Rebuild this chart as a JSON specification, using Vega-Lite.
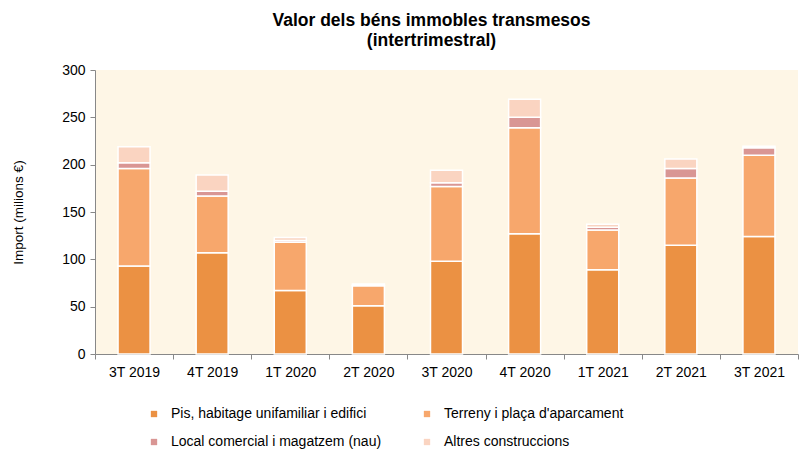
{
  "$schema": "https://vega.github.io/schema/vega-lite/v6.json",
  "width": 703,
  "height": 284,
  "autosize": {"type": "none"},
  "padding": {"left": 95, "top": 70, "right": 1, "bottom": 96},
  "background": "white",
  "config": {
    "font": "Liberation Sans",
    "view": {"fill": "#FEF6E6", "stroke": null}
  },
  "title": {
    "text": ["Valor dels béns immobles transmesos", "(intertrimestral)"],
    "font": "Liberation Sans",
    "fontSize": 17.5,
    "fontWeight": "bold",
    "color": "#000000",
    "anchor": "middle",
    "dx": -15,
    "offset": 14,
    "lineHeight": 20
  },
  "data": {
    "values": [
      {"q": "3T 2019", "cat": "Pis, habitage unifamiliar i edifici", "k": 1, "v": 93},
      {"q": "3T 2019", "cat": "Terreny i plaça d'aparcament", "k": 2, "v": 103},
      {"q": "3T 2019", "cat": "Local comercial i magatzem (nau)", "k": 3, "v": 6},
      {"q": "3T 2019", "cat": "Altres construccions", "k": 4, "v": 17},
      {"q": "4T 2019", "cat": "Pis, habitage unifamiliar i edifici", "k": 1, "v": 107},
      {"q": "4T 2019", "cat": "Terreny i plaça d'aparcament", "k": 2, "v": 60},
      {"q": "4T 2019", "cat": "Local comercial i magatzem (nau)", "k": 3, "v": 5},
      {"q": "4T 2019", "cat": "Altres construccions", "k": 4, "v": 17},
      {"q": "1T 2020", "cat": "Pis, habitage unifamiliar i edifici", "k": 1, "v": 67},
      {"q": "1T 2020", "cat": "Terreny i plaça d'aparcament", "k": 2, "v": 51},
      {"q": "1T 2020", "cat": "Local comercial i magatzem (nau)", "k": 3, "v": 2},
      {"q": "1T 2020", "cat": "Altres construccions", "k": 4, "v": 3},
      {"q": "2T 2020", "cat": "Pis, habitage unifamiliar i edifici", "k": 1, "v": 51},
      {"q": "2T 2020", "cat": "Terreny i plaça d'aparcament", "k": 2, "v": 21},
      {"q": "2T 2020", "cat": "Local comercial i magatzem (nau)", "k": 3, "v": 0.5},
      {"q": "2T 2020", "cat": "Altres construccions", "k": 4, "v": 1.5},
      {"q": "3T 2020", "cat": "Pis, habitage unifamiliar i edifici", "k": 1, "v": 98},
      {"q": "3T 2020", "cat": "Terreny i plaça d'aparcament", "k": 2, "v": 79},
      {"q": "3T 2020", "cat": "Local comercial i magatzem (nau)", "k": 3, "v": 4},
      {"q": "3T 2020", "cat": "Altres construccions", "k": 4, "v": 13},
      {"q": "4T 2020", "cat": "Pis, habitage unifamiliar i edifici", "k": 1, "v": 127},
      {"q": "4T 2020", "cat": "Terreny i plaça d'aparcament", "k": 2, "v": 112},
      {"q": "4T 2020", "cat": "Local comercial i magatzem (nau)", "k": 3, "v": 11},
      {"q": "4T 2020", "cat": "Altres construccions", "k": 4, "v": 19},
      {"q": "1T 2021", "cat": "Pis, habitage unifamiliar i edifici", "k": 1, "v": 89},
      {"q": "1T 2021", "cat": "Terreny i plaça d'aparcament", "k": 2, "v": 42},
      {"q": "1T 2021", "cat": "Local comercial i magatzem (nau)", "k": 3, "v": 3},
      {"q": "1T 2021", "cat": "Altres construccions", "k": 4, "v": 3},
      {"q": "2T 2021", "cat": "Pis, habitage unifamiliar i edifici", "k": 1, "v": 115},
      {"q": "2T 2021", "cat": "Terreny i plaça d'aparcament", "k": 2, "v": 71},
      {"q": "2T 2021", "cat": "Local comercial i magatzem (nau)", "k": 3, "v": 10},
      {"q": "2T 2021", "cat": "Altres construccions", "k": 4, "v": 10},
      {"q": "3T 2021", "cat": "Pis, habitage unifamiliar i edifici", "k": 1, "v": 124},
      {"q": "3T 2021", "cat": "Terreny i plaça d'aparcament", "k": 2, "v": 86},
      {"q": "3T 2021", "cat": "Local comercial i magatzem (nau)", "k": 3, "v": 8},
      {"q": "3T 2021", "cat": "Altres construccions", "k": 4, "v": 1.5}
    ]
  },
  "mark": {"type": "bar", "width": {"band": 0.41}, "stroke": "white", "strokeWidth": 1.5},
  "encoding": {
    "x": {
      "field": "q",
      "type": "nominal",
      "sort": null,
      "scale": {"paddingInner": 0, "paddingOuter": 0},
      "axis": {
        "title": null,
        "labelAngle": 0,
        "labelFontSize": 14,
        "labelColor": "#000000",
        "labelPadding": 6,
        "tickBand": "extent",
        "domainColor": "#888888",
        "tickColor": "#888888",
        "tickSize": 5,
        "grid": false
      }
    },
    "y": {
      "field": "v",
      "type": "quantitative",
      "stack": "zero",
      "scale": {"domain": [0, 300], "nice": false},
      "axis": {
        "title": "Import (milions €)",
        "titleFontSize": 13.5,
        "titleFontWeight": "normal",
        "titleColor": "#000000",
        "titlePadding": 36,
        "values": [0, 50, 100, 150, 200, 250, 300],
        "labelFontSize": 14,
        "labelColor": "#000000",
        "labelPadding": 5,
        "domainColor": "#888888",
        "tickColor": "#888888",
        "tickSize": 5,
        "grid": false
      }
    },
    "color": {
      "field": "cat",
      "type": "nominal",
      "scale": {
        "domain": ["Pis, habitage unifamiliar i edifici", "Terreny i plaça d'aparcament", "Local comercial i magatzem (nau)", "Altres construccions"],
        "range": ["#EB9143", "#F7A76C", "#D99694", "#FAD4C1"]
      },
      "legend": {
        "title": null,
        "orient": "none",
        "legendX": 52,
        "legendY": 337,
        "direction": "horizontal",
        "columns": 2,
        "columnPadding": 38,
        "rowPadding": 14,
        "symbolType": "square",
        "symbolSize": 40,
        "symbolStrokeWidth": 0,
        "labelFontSize": 14,
        "labelColor": "#000000",
        "labelOffset": 10,
        "labelLimit": 400
      }
    },
    "order": {"field": "k", "type": "quantitative"}
  }
}
